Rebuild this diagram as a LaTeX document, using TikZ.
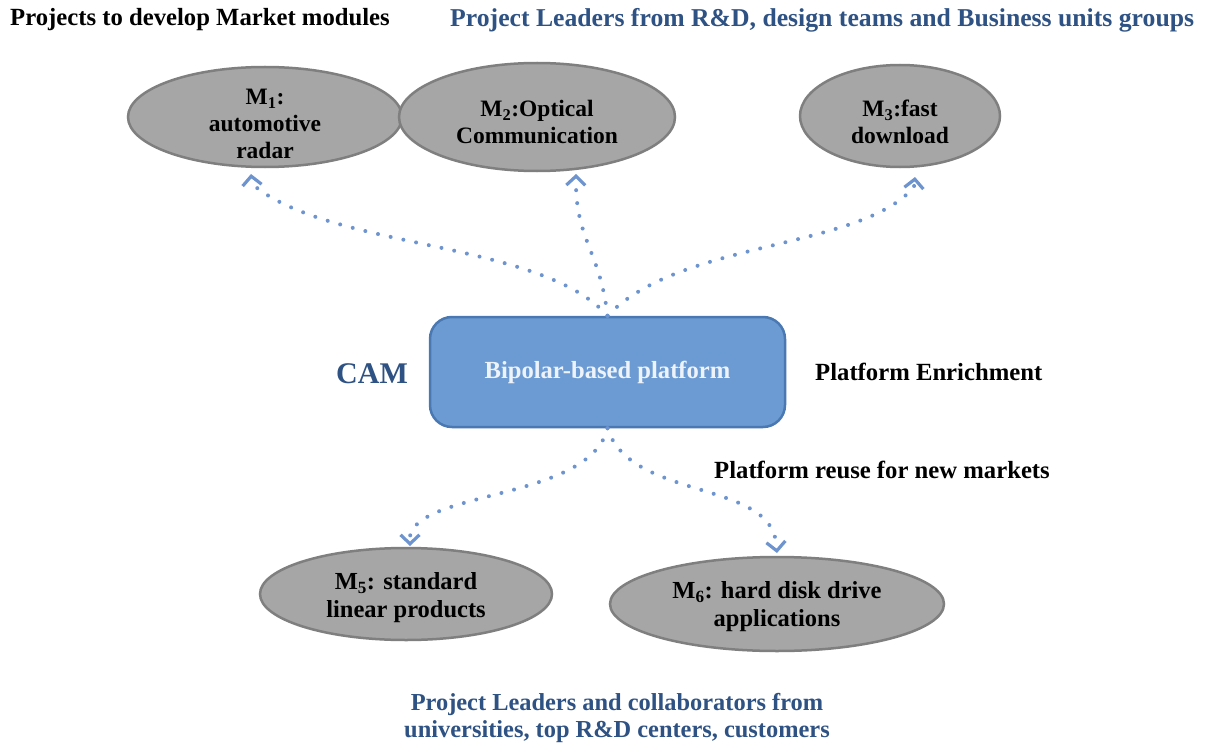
\documentclass[tikz,border=0pt]{standalone}
\usepackage{fontspec}
\setmainfont{Liberation Serif}
\usetikzlibrary{shapes.geometric,arrows.meta}
\definecolor{modfill}{HTML}{A6A6A6}
\definecolor{moddraw}{HTML}{7F7F7F}
\definecolor{boxfill}{HTML}{6C9BD3}
\definecolor{boxdraw}{HTML}{4A78B2}
\definecolor{titleblue}{HTML}{2E5283}
\definecolor{arrowblue}{HTML}{6E94CF}
\definecolor{boxtext}{HTML}{EEF3FA}
\tikzset{
  mod/.style={ellipse, fill=modfill, draw=moddraw, line width=2.5pt, inner sep=0pt},
  modtext/.style={align=center, font=\fontsize{23.5}{27}\selectfont\bfseries},
  modtextb/.style={align=center, font=\fontsize{24.5}{28}\selectfont\bfseries},
  label/.style={font=\fontsize{24.7}{28}\selectfont\bfseries, inner sep=0pt},
  platform/.style={rectangle, rounded corners=22pt, fill=boxfill, draw=boxdraw, line width=2.5pt,
    minimum width=355pt, minimum height=110pt, text=boxtext, font=\fontsize{24.6}{28}\selectfont\bfseries},
  link/.style={draw=arrowblue, line width=4pt, line cap=round, dash pattern=on 0pt off 13pt,
    -{Straight Barb[length=9pt,width=19pt,line width=3.2pt]}},
}
\begin{document}
\begin{tikzpicture}[x=1pt,y=-1pt]
\useasboundingbox (0,0) rectangle (1210,749);
\fill[white] (0,0) rectangle (1210,749);

% headers
\node[label, anchor=west] (h1) at (10,20) {Projects to develop Market modules};
\node[label, anchor=west, text=titleblue, font=\fontsize{25.7}{29}\selectfont\bfseries] (h2) at (450,20) {Project Leaders from R\&D, design teams and Business units groups};

% top modules
\node[mod, minimum width=274pt, minimum height=100pt] (m1) at (265,117) {};
\node[modtext] (t1) at (265,124) {M\textsubscript{1}:\\automotive\\radar};
\node[mod, minimum width=276pt, minimum height=108pt] (m2) at (537,117) {};
\node[modtext] (t2) at (537,122) {M\textsubscript{2}:Optical\\Communication};
\node[mod, minimum width=200pt, minimum height=102pt] (m3) at (900,116) {};
\node[modtext] (t3) at (900,122) {M\textsubscript{3}:fast\\download};

% platform
\node[platform] (box) at (607.5,372) {Bipolar-based platform};
\node[label, text=titleblue, font=\fontsize{30}{34}\selectfont\bfseries] (cam) at (372,374) {CAM};
\node[label, anchor=west] (enr) at (815,372) {Platform Enrichment};
\node[label, anchor=west] (reuse) at (714,470) {Platform reuse for new markets};

% bottom modules
\node[mod, minimum width=292pt, minimum height=92pt] (m5) at (406,594) {};
\node[modtextb] (t5) at (406,598) {M\textsubscript{5}: standard\\linear products};
\node[mod, minimum width=334pt, minimum height=94pt] (m6) at (777,604) {};
\node[modtextb] (t6) at (777,607) {M\textsubscript{6}: hard disk drive\\applications};

% bottom caption
\node[align=center, font=\fontsize{24.4}{27}\selectfont\bfseries, text=titleblue] (cap) at (617,718) {Project Leaders and collaborators from\\universities, top R\&D centers, customers};

% arrow ends
\coordinate (p1) at (252,184);
\coordinate (e1) at (251,174);
\coordinate (e2) at (576,174);
\coordinate (p3) at (914,187);
\coordinate (e3) at (915,177);
\coordinate (p5) at (410,536);
\coordinate (e5) at (410,546);
\coordinate (p6) at (776,543);
\coordinate (e6) at (777,553);

\draw[link] (box.north) .. controls (540,240) and (330,250) .. (p1) -- (e1);
\draw[link] (box.north) .. controls (600,250) and (575,240) .. (e2);
\draw[link] (box.north) .. controls (680,240) and (860,250) .. (p3) -- (e3);
\draw[link] (box.south) .. controls (590,500) and (420,490) .. (p5) -- (e5);
\draw[link] (box.south) .. controls (630,500) and (770,480) .. (p6) -- (e6);
\end{tikzpicture}
\end{document}
